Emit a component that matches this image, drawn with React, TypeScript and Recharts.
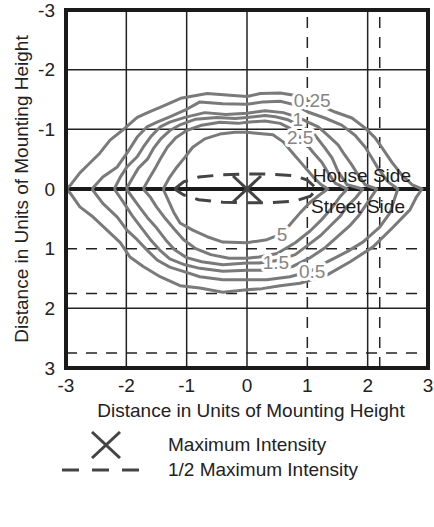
import { ComposedChart, Scatter, XAxis, YAxis, ReferenceLine } from "recharts";

const xTicks = [-3, -2, -1, 0, 1, 2, 3];
const yTicks = [-3, -2, -1, 0, 1, 2, 3];
const solidX = [-2, -1, 0, 2];
const dashedX = [1, 2.2];
const solidY = [-2, -1, 2];
const dashedY = [1, 1.75, 2.75];

type Pt = [number, number];

// plot frame corners
const frame: Pt[] = [[-3, -3], [3, -3], [3, 3], [-3, 3], [-3, -3]];

// isolux contours (x, y) in mounting heights
const iso025: Pt[] = [
  [-3, 0], [-2.93, -0.06], [-2.77, -0.27], [-2.6, -0.44], [-2.44, -0.6], [-2.27, -0.82], [-2.07, -0.98],
  [-1.82, -1.2], [-1.6, -1.3], [-1.44, -1.37], [-1.1, -1.52], [-0.66, -1.6], [-0.28, -1.57], [0, -1.55],
  [0.22, -1.6], [0.55, -1.61], [0.78, -1.57], [1.1, -1.45], [1.46, -1.29], [1.74, -1.19], [1.96, -1.02],
  [2.12, -0.86], [2.24, -0.69], [2.4, -0.45], [2.57, -0.23], [2.74, -0.07], [2.9, 0],
  [2.8, 0.15], [2.7, 0.35], [2.42, 0.64], [2.09, 0.97], [1.71, 1.22], [1.33, 1.44], [0.88, 1.58],
  [0.55, 1.62], [0.25, 1.67], [0, 1.69], [-0.4, 1.73], [-0.78, 1.66], [-1.11, 1.62], [-1.44, 1.47],
  [-1.72, 1.3], [-1.94, 1.14], [-2.1, 0.9], [-2.32, 0.69], [-2.55, 0.47], [-2.77, 0.3], [-2.93, 0.07], [-3, 0],
];
const iso05: Pt[] = [
  [-2.57, 0], [-2.39, -0.2], [-2.15, -0.37], [-1.99, -0.6], [-1.82, -0.87], [-1.66, -1.04], [-1.49, -1.12],
  [-1.28, -1.21], [-1.03, -1.32], [-0.78, -1.46], [-0.4, -1.43], [0, -1.42], [0.27, -1.46], [0.55, -1.47],
  [0.8, -1.41], [1.01, -1.29], [1.29, -1.19], [1.57, -1.07], [1.79, -0.9], [1.96, -0.7], [2.07, -0.52],
  [2.17, -0.35], [2.34, -0.12], [2.5, 0],
  [2.45, 0.15], [2.37, 0.4], [2.2, 0.64], [1.92, 0.89], [1.66, 1.05], [1.33, 1.22], [1.05, 1.38],
  [0.71, 1.47], [0.33, 1.52], [0, 1.52], [-0.4, 1.52], [-0.78, 1.47], [-1.03, 1.39], [-1.28, 1.31],
  [-1.49, 1.19], [-1.66, 1.02], [-1.82, 0.85], [-1.99, 0.69], [-2.15, 0.47], [-2.39, 0.24], [-2.57, 0],
];
const iso1: Pt[] = [
  [-2.2, 0], [-2.1, -0.2], [-1.99, -0.37], [-1.82, -0.54], [-1.72, -0.7], [-1.6, -0.87], [-1.44, -1.04],
  [-1.28, -1.12], [-1.03, -1.2], [-0.7, -1.28], [-0.35, -1.25], [0, -1.27], [0.3, -1.31], [0.6, -1.28],
  [0.85, -1.2], [1.01, -1.12], [1.18, -1.04], [1.34, -0.9], [1.51, -0.74], [1.62, -0.57], [1.74, -0.4],
  [1.84, -0.24], [1.96, -0.07], [2.15, 0],
  [2.05, 0.15], [1.95, 0.3], [1.85, 0.45], [1.7, 0.62], [1.5, 0.8], [1.3, 0.98], [1.05, 1.15],
  [0.75, 1.3], [0.4, 1.36], [0, 1.36], [-0.4, 1.38], [-0.78, 1.33], [-1.03, 1.27], [-1.28, 1.17],
  [-1.45, 1.02], [-1.6, 0.85], [-1.75, 0.65], [-1.9, 0.45], [-2.05, 0.22], [-2.2, 0],
];
const iso15: Pt[] = [
  [-2.0, 0], [-1.9, -0.18], [-1.8, -0.35], [-1.65, -0.5], [-1.55, -0.68], [-1.42, -0.85], [-1.28, -0.98],
  [-1.1, -1.08], [-0.85, -1.17], [-0.5, -1.2], [-0.2, -1.18], [0, -1.2], [0.3, -1.23], [0.47, -1.21],
  [0.68, -1.16], [0.96, -1.02], [1.13, -0.9], [1.29, -0.69], [1.41, -0.52], [1.51, -0.29], [1.66, -0.07], [1.92, 0],
  [1.8, 0.15], [1.65, 0.3], [1.55, 0.45], [1.4, 0.6], [1.22, 0.78], [1.0, 0.95], [0.8, 1.1],
  [0.5, 1.2], [0.2, 1.24], [0, 1.24], [-0.4, 1.27], [-0.75, 1.22], [-1.0, 1.15], [-1.2, 1.02],
  [-1.35, 0.85], [-1.5, 0.65], [-1.65, 0.48], [-1.8, 0.28], [-2.0, 0],
];
const iso25: Pt[] = [
  [-1.72, 0], [-1.62, -0.18], [-1.52, -0.35], [-1.44, -0.5], [-1.32, -0.7], [-1.18, -0.86], [-1.0, -0.98],
  [-0.75, -1.07], [-0.45, -1.12], [-0.15, -1.1], [0, -1.12], [0.3, -1.14], [0.55, -1.1], [0.75, -1.0],
  [0.95, -0.8], [1.09, -0.62], [1.24, -0.45], [1.34, -0.28], [1.46, -0.1], [1.66, 0],
  [1.55, 0.12], [1.42, 0.3], [1.25, 0.5], [1.05, 0.7], [0.8, 0.9], [0.5, 1.08], [0.2, 1.14], [0, 1.16],
  [-0.3, 1.16], [-0.6, 1.1], [-0.85, 1.0], [-1.05, 0.85], [-1.2, 0.68], [-1.35, 0.5], [-1.5, 0.3],
  [-1.6, 0.14], [-1.72, 0],
];
const iso5: Pt[] = [
  [-1.39, 0], [-1.28, -0.2], [-1.16, -0.37], [-1.03, -0.53], [-0.9, -0.7], [-0.7, -0.84], [-0.45, -0.92],
  [-0.2, -0.95], [0, -0.95], [0.2, -0.93], [0.43, -0.91], [0.6, -0.79], [0.76, -0.6], [0.93, -0.4],
  [1.1, -0.2], [1.22, -0.08], [1.34, 0],
  [1.2, 0.1], [1.04, 0.23], [0.88, 0.4], [0.71, 0.6], [0.5, 0.78], [0.33, 0.85], [0, 0.9], [-0.4, 0.89],
  [-0.66, 0.8], [-0.9, 0.69], [-1.11, 0.57], [-1.22, 0.38], [-1.3, 0.2], [-1.39, 0],
];
const halfMax: Pt[] = [
  [-1.2, 0], [-1.05, -0.12], [-0.8, -0.2], [-0.4, -0.24], [0, -0.25], [0.4, -0.25], [0.8, -0.22],
  [1.0, -0.15], [1.16, 0], [1.05, 0.12], [0.8, 0.2], [0.4, 0.23], [0, 0.23], [-0.4, 0.22],
  [-0.8, 0.18], [-1.05, 0.1], [-1.2, 0],
];
const maxPoint: Pt[] = [[0, 0]];

const contourLabels = [
  { x: 1.08, y: -1.48, text: "0.25" },
  { x: 0.84, y: -1.17, text: "1" },
  { x: 0.88, y: -0.86, text: "2.5" },
  { x: 0.58, y: 0.77, text: "5" },
  { x: 0.48, y: 1.24, text: "1.5" },
  { x: 1.08, y: 1.39, text: "0.5" },
];
const sideLabels = [
  { x: 1.09, y: -0.22, text: "House Side" },
  { x: 1.06, y: 0.3, text: "Street Side" },
];

const contours = [iso025, iso05, iso1, iso15, iso25, iso5];
const toRows = (pts: Pt[]) => pts.map(([x, y]) => ({ x, y }));

const NoShape = () => <g />;

const ContourLabel = (props: any) => {
  const t = props.payload?.text ?? props.text;
  return (
    <text x={props.cx} y={props.cy} textAnchor="middle" dominantBaseline="central" fontSize={19}
      fill="#858585" stroke="#fff" strokeWidth={6} paintOrder="stroke" strokeLinejoin="round">
      {t}
    </text>
  );
};

const SideLabel = (props: any) => {
  const t = props.payload?.text ?? props.text;
  return (
    <text x={props.cx} y={props.cy} textAnchor="start" dominantBaseline="central" fontSize={19} fill="#1a1a1a">
      {t}
    </text>
  );
};

const Cross = (props: any) => {
  const { cx, cy } = props;
  return (
    <g stroke="#444" strokeWidth={3}>
      <line x1={cx - 14} y1={cy - 13} x2={cx + 14} y2={cy + 13} />
      <line x1={cx - 14} y1={cy + 13} x2={cx + 14} y2={cy - 13} />
    </g>
  );
};

const font = "'Liberation Sans', Arial, sans-serif";

export default function App() {
  return (
    <div style={{ position: "relative", width: 434, height: 519, fontFamily: font, color: "#222" }}>
      <style>{"html,body{margin:0;padding:0;overflow:hidden;}"}</style>
      <ComposedChart width={434} height={519} margin={{ top: 10, right: 6, left: 0, bottom: 121 }}>
        <XAxis type="number" dataKey="x" domain={[-3, 3]} ticks={xTicks} interval={0}
          axisLine={false} tickLine={false} tickSize={0} tickMargin={11} height={30}
          tick={{ fill: "#222", fontSize: 19, fontFamily: font }} />
        <YAxis type="number" dataKey="y" domain={[-3, 3]} reversed ticks={yTicks} interval={0}
          axisLine={false} tickLine={false} tickSize={0} tickMargin={11} width={66}
          tick={{ fill: "#222", fontSize: 19, fontFamily: font }} />
        {solidX.map((v) => (
          <ReferenceLine key={"sx" + v} x={v} stroke="#222" strokeWidth={1.5} />
        ))}
        {dashedX.map((v) => (
          <ReferenceLine key={"dx" + v} x={v} stroke="#222" strokeWidth={1.5} strokeDasharray="11 9" />
        ))}
        {solidY.map((v) => (
          <ReferenceLine key={"sy" + v} y={v} stroke="#222" strokeWidth={1.5} />
        ))}
        {dashedY.map((v) => (
          <ReferenceLine key={"dy" + v} y={v} stroke="#222" strokeWidth={1.5} strokeDasharray="11 9" />
        ))}
        {contours.map((c, i) => (
          <Scatter key={"c" + i} data={toRows(c)} shape={NoShape} isAnimationActive={false}
            line={{ stroke: "#7a7a7a", strokeWidth: 3, strokeLinejoin: "round" }} />
        ))}
        <ReferenceLine y={0} stroke="#1a1a1a" strokeWidth={4} />
        <Scatter data={contourLabels} shape={ContourLabel} isAnimationActive={false} />
        <Scatter data={toRows(halfMax)} shape={NoShape} isAnimationActive={false}
          line={{ stroke: "#444", strokeWidth: 3, strokeDasharray: "16 10" }} />
        <Scatter data={toRows(maxPoint)} shape={Cross} isAnimationActive={false} />
        <Scatter data={sideLabels} shape={SideLabel} isAnimationActive={false} />
        <Scatter data={toRows(frame)} shape={NoShape} isAnimationActive={false}
          line={{ stroke: "#1a1a1a", strokeWidth: 4, strokeLinejoin: "miter", strokeLinecap: "square" }} />
      </ComposedChart>

      <div style={{ position: "absolute", left: 22, top: 189, transform: "translate(-50%,-50%) rotate(-90deg)",
        whiteSpace: "nowrap", fontSize: 19 }}>
        Distance in Units of Mounting Height
      </div>
      <div style={{ position: "absolute", left: 251, top: 411, transform: "translate(-50%,-50%)",
        whiteSpace: "nowrap", fontSize: 19 }}>
        Distance in Units of Mounting Height
      </div>

      <svg style={{ position: "absolute", left: 91, top: 431 }} width={30} height={28}>
        <g stroke="#444" strokeWidth={3}>
          <line x1={1} y1={1} x2={29} y2={27} />
          <line x1={1} y1={27} x2={29} y2={1} />
        </g>
      </svg>
      <div style={{ position: "absolute", left: 168, top: 445, transform: "translateY(-50%)",
        whiteSpace: "nowrap", fontSize: 19 }}>
        Maximum Intensity
      </div>
      <svg style={{ position: "absolute", left: 62, top: 464 }} width={80} height={12}>
        <line x1={0} y1={6} x2={80} y2={6} stroke="#444" strokeWidth={3} strokeDasharray="17 13" />
      </svg>
      <div style={{ position: "absolute", left: 168, top: 470, transform: "translateY(-50%)",
        whiteSpace: "nowrap", fontSize: 19 }}>
        1/2 Maximum Intensity
      </div>
    </div>
  );
}
